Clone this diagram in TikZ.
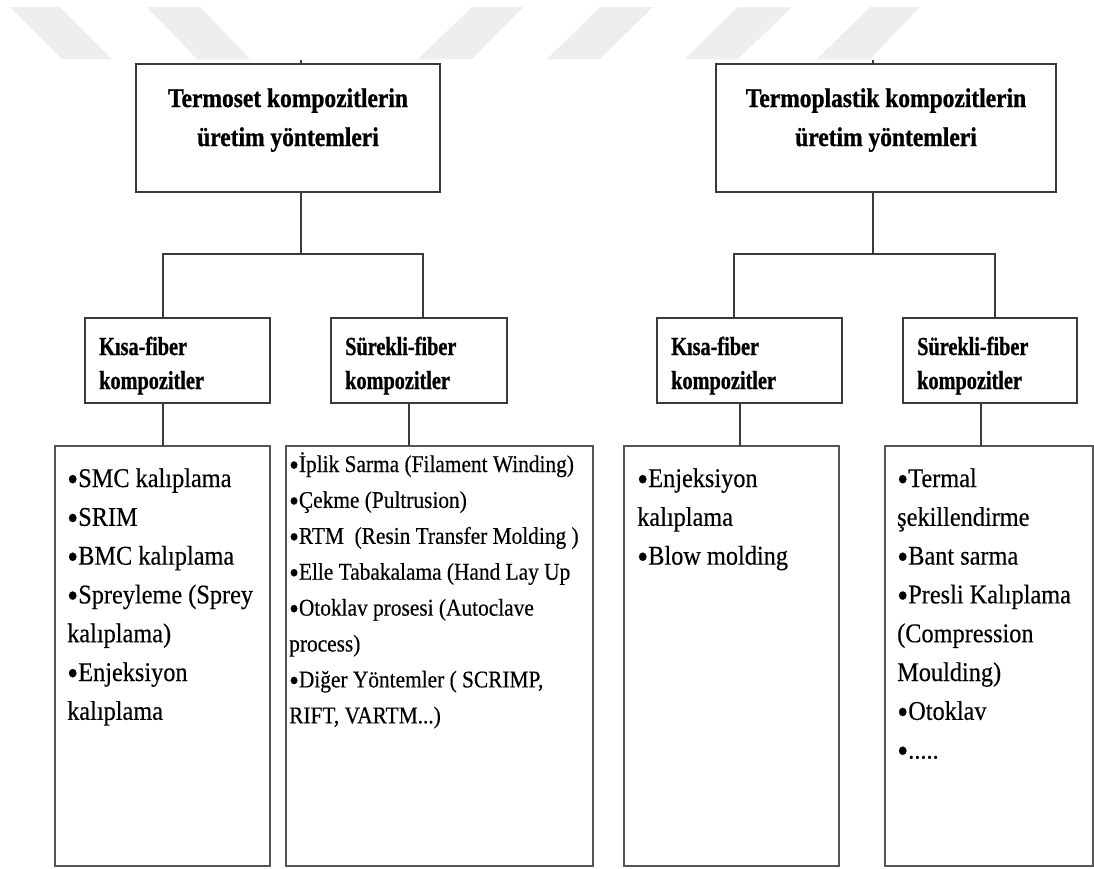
\documentclass[tikz,border=0pt]{standalone}
\usepackage{fontspec}
\usepackage{graphicx}
\setmainfont{Liberation Serif}
\newfontfamily\ftitle{Liberation Serif Bold}[FakeStretch=0.87,FakeBold=0.9]
\newfontfamily\fsub{Liberation Serif Bold}[FakeStretch=0.78,FakeBold=0.8]
\newfontfamily\flist{Liberation Serif}[FakeStretch=0.9,FakeBold=0.35]
\newfontfamily\fmid{Liberation Serif}[FakeStretch=0.89,FakeBold=0.35]
\usetikzlibrary{calc}
\definecolor{wm}{HTML}{EEEEEE}
\definecolor{ln}{HTML}{3A3A3A}
\definecolor{lnb}{HTML}{555555}
\newcommand\stackL[1]{\vtop{\halign{##\hfil\cr #1\crcr}}}
\newcommand\stackC[1]{\vtop{\halign{\hfil##\hfil\cr #1\crcr}}}
\newcommand\bul{\raisebox{-0.14em}{\scalebox{1.3}{•}}}
\begin{document}
\begin{tikzpicture}[x=1pt,y=-1pt,
  topbox/.style={draw=ln, line width=1.8pt, inner sep=0pt, outer sep=0pt, anchor=north west},
  subbox/.style={draw=ln, line width=1.7pt, inner sep=0pt, outer sep=0pt, anchor=north west},
  listbox/.style={draw=lnb, line width=1.2pt, inner sep=0pt, outer sep=0pt, anchor=north west},
  conn/.style={draw=ln, line width=1.5pt},
  ttext/.style={inner sep=0pt, anchor=base, font=\ftitle\fontsize{27}{39}\selectfont},
  stext/.style={inner sep=0pt, anchor=base west, font=\fsub\fontsize{26}{34}\selectfont},
  ltext/.style={inner sep=0pt, anchor=base west, font=\flist\fontsize{27}{38.8}\selectfont},
  mtext/.style={inner sep=0pt, anchor=base west, font=\fmid\fontsize{24}{35.9}\selectfont}]
\useasboundingbox (0,0) rectangle (1094,868);
\fill[white] (0,0) rectangle (1094,868);
% watermark stripes
\fill[wm] (10,7) -- (60,7) -- (112,59) -- (62,59) -- cycle;
\fill[wm] (147,7) -- (200,7) -- (250,59) -- (197,59) -- cycle;
\fill[wm] (472,7) -- (523,7) -- (472,59) -- (418,59) -- cycle;
\fill[wm] (600,7) -- (653,7) -- (600,59) -- (547,59) -- cycle;
\fill[wm] (738,7) -- (792,7) -- (738,59) -- (685,59) -- cycle;
\fill[wm] (870,7) -- (920,7) -- (870,59) -- (817,59) -- cycle;

% top boxes
\node[topbox, minimum width=304pt, minimum height=128pt] (t1) at (136,64) {};
\node[topbox, minimum width=340pt, minimum height=128pt] (t2) at (716,64) {};
\node[ttext] (t1x) at (288,107) {\stackC{Termoset kompozitlerin\cr üretim yöntemleri}};
\node[ttext] (t2x) at (886,107) {\stackC{Termoplastik kompozitlerin\cr üretim yöntemleri}};

% sub boxes
\node[subbox, minimum width=185pt, minimum height=85pt] (k1) at (85,318) {};
\node[subbox, minimum width=176pt, minimum height=85pt] (s1) at (331,318) {};
\node[subbox, minimum width=185pt, minimum height=85pt] (k2) at (657,318) {};
\node[subbox, minimum width=174pt, minimum height=85pt] (s2) at (903,318) {};
\node[stext] (k1x) at (99,355) {\stackL{Kısa-fiber\cr kompozitler}};
\node[stext] (s1x) at (345,355) {\stackL{Sürekli-fiber\cr kompozitler}};
\node[stext] (k2x) at (671,355) {\stackL{Kısa-fiber\cr kompozitler}};
\node[stext] (s2x) at (917,355) {\stackL{Sürekli-fiber\cr kompozitler}};

% list boxes
\node[listbox, minimum width=215pt, minimum height=420pt] (l1) at (55,446) {};
\node[listbox, minimum width=307pt, minimum height=420pt] (l2) at (286,446) {};
\node[listbox, minimum width=215pt, minimum height=420pt] (l3) at (624,446) {};
\node[listbox, minimum width=208pt, minimum height=420pt] (l4) at (885,446) {};
\node[ltext] (l1x) at (67,487) {\stackL{\bul SMC kalıplama\cr \bul SRIM\cr \bul BMC kalıplama\cr \bul Spreyleme (Sprey\cr kalıplama)\cr \bul Enjeksiyon\cr kalıplama}};
\node[mtext] (l2x) at (289,472) {\stackL{\bul İplik Sarma (Filament Winding)\cr \bul Çekme (Pultrusion)\cr \bul RTM~ (Resin Transfer Molding )\cr \bul Elle Tabakalama (Hand Lay Up\cr \bul Otoklav prosesi (Autoclave\cr process)\cr \bul Diğer Yöntemler ( SCRIMP,\cr RIFT, VARTM...)}};
\node[ltext] (l3x) at (637,487) {\stackL{\bul Enjeksiyon\cr kalıplama\cr \bul Blow molding}};
\node[ltext] (l4x) at (897,487) {\stackL{\bul Termal\cr şekillendirme\cr \bul Bant sarma\cr \bul Presli Kalıplama\cr (Compression\cr Moulding)\cr \bul Otoklav\cr \bul .....}};

% junction coordinates
\coordinate (j1) at (301,254);
\coordinate (a1) at (163,254);
\coordinate (a2) at (423,254);
\coordinate (b1) at (163,420);
\coordinate (b2) at (409,420);
\coordinate (j2) at (873,254);
\coordinate (a3) at (734,254);
\coordinate (a4) at (995,254);
\coordinate (b3) at (740,420);
\coordinate (b4) at (981,420);

% connectors left
\draw[conn] (t1.north -| j1) -- ++(0,-4);
\draw[conn] (t1.south -| j1) -- (j1);
\draw[conn] (k1.north -| a1) -- (a1) -- (a2) -- (s1.north -| a2);
\draw[conn] (k1.south -| b1) -- (l1.north -| b1);
\draw[conn] (s1.south -| b2) -- (l2.north -| b2);
% connectors right
\draw[conn] (t2.north -| j2) -- ++(0,-4);
\draw[conn] (t2.south -| j2) -- (j2);
\draw[conn] (k2.north -| a3) -- (a3) -- (a4) -- (s2.north -| a4);
\draw[conn] (k2.south -| b3) -- (l3.north -| b3);
\draw[conn] (s2.south -| b4) -- (l4.north -| b4);
\end{tikzpicture}
\end{document}
